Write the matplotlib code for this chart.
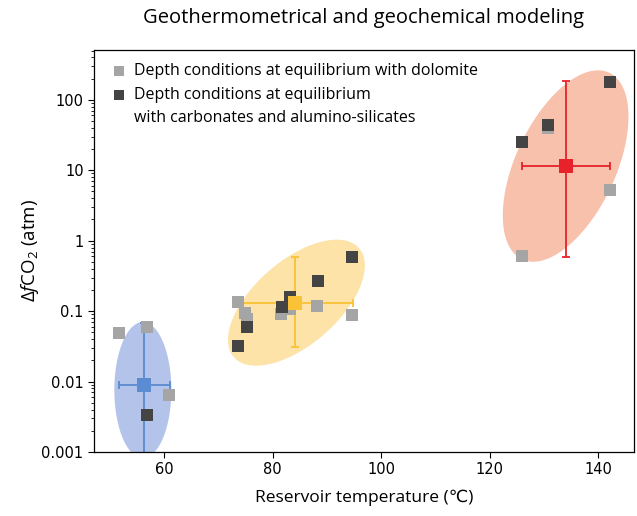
import numpy as np
import matplotlib
matplotlib.use('Agg')
import matplotlib.pyplot as plt
from matplotlib.ticker import FixedLocator, FixedFormatter, LogLocator, NullFormatter

plt.rcParams['font.family'] = ['Open Sans', 'DejaVu Sans']
plt.rcParams['mathtext.fontset'] = 'custom'
plt.rcParams['mathtext.rm'] = 'Open Sans'
plt.rcParams['mathtext.it'] = 'Open Sans:italic'

# ---- data ----
dolo_T = [51.7, 56.9, 60.9, 73.7, 75.0, 75.2, 81.5, 83.2, 88.2, 94.7, 125.9, 130.7, 142.1]
dolo_f = [0.049, 0.060, 0.0065, 0.134, 0.095, 0.078, 0.091, 0.107, 0.12, 0.088, 0.60, 40.0, 5.3]
carb_T = [56.9, 73.7, 75.2, 81.7, 83.3, 88.3, 94.7, 125.9, 130.7, 142.2]
carb_f = [0.0034, 0.032, 0.059, 0.116, 0.158, 0.27, 0.59, 25.0, 43.8, 182.0]

mean_T = [56.3, 84.1, 134.1]
mean_f = [0.0089, 0.131, 11.5]
T_lo = [51.7, 73.6, 125.9]
T_hi = [61.1, 94.8, 142.1]
f_lo = [0.0004, 0.031, 0.59]
f_hi = [0.067, 0.59, 186.0]

# ellipse: centre (T, log10 f), semi-axes (screen px), angle (deg)
ell_T = [56.1, 84.4, 134.0]
ell_logf = [-2.12, -0.88, 1.06]
ell_a = [68, 83, 103]
ell_b = [28.5, 42, 50]
ell_ang = [90, 41, 65]

mean_colors = ['#5b8bd0', '#f9c237', '#e8212b']
ell_colors = ['#b3c3ea', '#fde3a8', '#f8c1ab']

legend_labels = ['Depth conditions at equilibrium with dolomite',
                 'Depth conditions at equilibrium\nwith carbonates and alumino-silicates']
legend_colors = ['#a5a5a5', '#444444']

xticks = [60, 80, 100, 120, 140]
yticks = [0.001, 0.01, 0.1, 1, 10, 100]
ylabels = ['0.001', '0.01', '0.1', '1', '10', '100']

W, H = 637, 516
fig = plt.figure(figsize=(W / 100, H / 100), dpi=100)
ax = fig.add_axes([94 / W, 1 - 452 / H, (634 - 94) / W, (452 - 50) / H])
ax.set_xlim(47.1, 146.6)
ax.set_yscale('log')
ax.set_ylim(0.001, 510)

fig.canvas.draw()
bb = ax.get_window_extent()
x0, x1 = ax.get_xlim()
ly0, ly1 = np.log10(ax.get_ylim())
ppd_x = bb.width / (x1 - x0)
ppd_y = bb.height / (ly1 - ly0)

t = np.linspace(0, 2 * np.pi, 300)
for cT, cl, a, b, ang, col in zip(ell_T, ell_logf, ell_a, ell_b, ell_ang, ell_colors):
    th = np.deg2rad(ang)
    u = a * np.cos(t) * np.cos(th) - b * np.sin(t) * np.sin(th)
    v = a * np.cos(t) * np.sin(th) + b * np.sin(t) * np.cos(th)
    xs = cT + u / ppd_x
    ys = 10 ** (cl + v / ppd_y)
    ax.fill(xs, ys, color=col, lw=0, zorder=1)

for i in range(3):
    ax.errorbar([mean_T[i]], [mean_f[i]],
                xerr=[[mean_T[i] - T_lo[i]], [T_hi[i] - mean_T[i]]],
                yerr=[[mean_f[i] - f_lo[i]], [f_hi[i] - mean_f[i]]],
                fmt='none', ecolor=mean_colors[i], elinewidth=1.3,
                capsize=3, capthick=1.3, zorder=2)

ax.scatter(dolo_T, dolo_f, marker='s', s=75, color=legend_colors[0], lw=0, zorder=3)
ax.scatter(carb_T, carb_f, marker='s', s=75, color=legend_colors[1], lw=0, zorder=3)
ax.scatter(mean_T, mean_f, marker='s', s=100, c=mean_colors, lw=0, zorder=4)

# legend (marker aligned with the first line of each entry)
leg_y = [(452 - 71) / 402, (452 - 95) / 402]
for yy, lab, col in zip(leg_y, legend_labels, legend_colors):
    ax.scatter([0.046], [yy], transform=ax.transAxes, marker='s', s=60,
               color=col, lw=0, zorder=5, clip_on=False)
    ax.text(0.074, yy + 0.020, lab, transform=ax.transAxes, fontsize=11.5,
            va='top', ha='left', linespacing=1.55, zorder=5)

ax.xaxis.set_major_locator(FixedLocator(xticks))
ax.yaxis.set_major_locator(FixedLocator(yticks))
ax.yaxis.set_major_formatter(FixedFormatter(ylabels))
ax.yaxis.set_minor_locator(LogLocator(base=10, subs=np.arange(2, 10)))
ax.yaxis.set_minor_formatter(NullFormatter())
for lab in ax.get_xticklabels() + ax.get_yticklabels():
    lab.set_family('DejaVu Sans')
ax.tick_params(axis='both', which='major', labelsize=10.5, length=4, width=0.8)
ax.tick_params(axis='y', which='minor', length=2.5, width=0.6)
for sp in ax.spines.values():
    sp.set_linewidth(0.9)

ax.set_xlabel('Reservoir temperature (\u2103)', fontsize=12.5, labelpad=9)
ax.set_ylabel(r'$\Delta\mathit{f}$CO$_2$ (atm)', fontsize=13.5, labelpad=0)
fig.suptitle('Geothermometrical and geochemical modeling', fontsize=14.5, x=0.57, y=0.985)

fig.savefig('out.png', dpi=100)
